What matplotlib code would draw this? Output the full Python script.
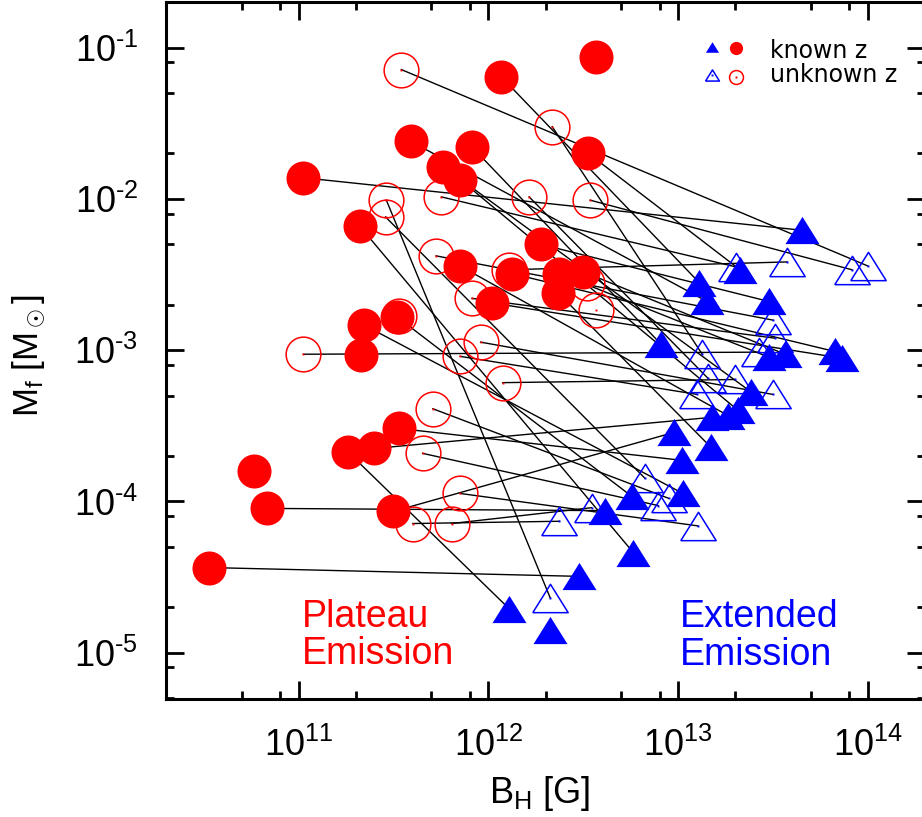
import matplotlib
matplotlib.use('Agg')
import matplotlib.pyplot as plt
from matplotlib.lines import Line2D
from matplotlib.ticker import LogLocator, NullFormatter, FuncFormatter
import numpy as np

# ---------------- data ----------------
# paired known-z bursts: plateau emission (circle) -> extended emission (triangle)
pe_known_B = [1.05e11, 3.36e12, 1.17e12, 3.9e11, 2.1e11, 1.9e12, 8.2e11, 2.37e12, 3.16e12,
              1.34e12, 1.05e12, 5.8e11, 7.1e11, 7.1e11, 2.5e11, 3.16e11, 2.34e12, 3.36e11,
              3.3e11, 2.2e11, 6.8e10, 3.36e10, 1.83e11]
pe_known_M = [1.38e-2, 2.0e-2, 6.4e-2, 2.4e-2, 6.6e-3, 5.0e-3, 2.2e-2, 3.2e-3, 3.3e-3,
              3.2e-3, 2.05e-3, 1.63e-2, 1.34e-2, 3.6e-3, 2.24e-4, 8.6e-5, 2.38e-3, 3.04e-4,
              1.66e-3, 1.47e-3, 9.0e-5, 3.66e-5, 2.11e-4]
ee_known_B = [4.5e13, 2.12e13, 1.29e13, 1.42e13, 5.8e12, 3.0e13, 8.1e12, 3.0e13, 3.66e13,
              6.7e13, 7.3e13, 2.42e13, 2.07e13, 1.83e13, 1.51e13, 9.5e12, 1.49e13, 1.05e13,
              5.7e12, 1.06e13, 4.1e12, 3.0e12, 1.29e12]
ee_known_M = [6.2e-3, 3.4e-3, 2.8e-3, 2.1e-3, 4.6e-5, 2.1e-3, 1.1e-3, 9.0e-4, 9.4e-4,
              9.8e-4, 8.85e-4, 5.3e-4, 4.0e-4, 3.7e-4, 3.6e-4, 2.86e-4, 2.28e-4, 1.87e-4,
              1.08e-4, 1.13e-4, 8.7e-5, 3.2e-5, 1.95e-5]
# unpaired known-z points
pe_known_extra_B = [3.7e12, 2.12e11, 5.8e10]
pe_known_extra_M = [8.6e-2, 9.3e-4, 1.58e-4]
ee_known_extra_B = [2.12e12]
ee_known_extra_M = [1.42e-5]

# paired unknown-z bursts
pe_unknown_B = [3.48e11, 5.66e11, 2.17e12, 1.64e12, 3.44e12, 1.29e12, 5.3e11, 8.2e11, 9.1e11,
                7.1e11, 1.06e11, 1.19e12, 2.87e11, 2.9e11, 5.1e11, 4.5e11, 7.1e11, 4.0e11, 6.4e11]
pe_unknown_M = [7.15e-2, 1.03e-2, 3.0e-2, 1.03e-2, 9.8e-3, 3.4e-3, 4.2e-3, 2.2e-3, 1.13e-3,
                9.1e-4, 9.4e-4, 6.1e-4, 7.6e-3, 9.8e-3, 4.1e-4, 2.08e-4, 1.13e-4, 7.15e-5, 7.15e-5]
ee_unknown_B = [1.0e14, 2.02e13, 1.34e13, 1.44e13, 8.24e13, 3.75e13, 3.16e13, 3.24e13, 3.16e13,
                1.26e13, 2.67e13, 2.0e13, 6.7e12, 2.12e12, 8.9e12, 7.85e12, 1.27e13, 2.37e12, 3.5e12]
ee_unknown_M = [3.6e-3, 3.55e-3, 9.4e-4, 6.5e-4, 3.4e-3, 3.83e-3, 1.58e-3, 1.2e-3, 5.1e-4,
                5.1e-4, 9.7e-4, 6.4e-4, 1.42e-4, 2.3e-5, 1.05e-4, 9.4e-5, 6.9e-5, 7.4e-5, 9.1e-5]
pe_unknown_extra_B = [3.7e12, 3.4e11, 3.3e12]
pe_unknown_extra_M = [1.84e-3, 1.68e-3, 2.8e-3]

xlim = (2.0e10, 2.0e14)
ylim = (4.95e-6, 0.2)

RED = '#ff0000'
BLUE = '#0000ff'

plt.rcParams['mathtext.fontset'] = 'custom'
plt.rcParams['mathtext.rm'] = 'Liberation Sans'
plt.rcParams['mathtext.it'] = 'Liberation Sans'
plt.rcParams['mathtext.bf'] = 'Liberation Sans:bold'
plt.rcParams['mathtext.sf'] = 'Liberation Sans'
plt.rcParams['font.family'] = ['Liberation Sans', 'DejaVu Sans']

W, H = 922, 817
fig = plt.figure(figsize=(W / 100, H / 100), dpi=100)
ax = fig.add_axes([166 / W, 118 / H, 759 / W, 697 / H])
ax.set_xscale('log')
ax.set_yscale('log')
ax.set_xlim(*xlim)
ax.set_ylim(*ylim)

tri = [(-1, -0.8), (1, -0.8), (0, 0.8), (-1, -0.8)]

# connecting lines
for xs, ys, xe, ye in [(pe_known_B, pe_known_M, ee_known_B, ee_known_M),
                       (pe_unknown_B, pe_unknown_M, ee_unknown_B, ee_unknown_M)]:
    for a, b, c, d in zip(xs, ys, xe, ye):
        ax.plot([a, c], [b, d], color='black', lw=1.0, zorder=1)

# unknown-z open markers
ax.plot(pe_unknown_B + pe_unknown_extra_B, pe_unknown_M + pe_unknown_extra_M, 'o', ls='none',
        ms=25, mfc='none', mec=RED, mew=1.1, zorder=2)
ax.plot(pe_unknown_B + pe_unknown_extra_B, pe_unknown_M + pe_unknown_extra_M, 's', ls='none',
        ms=1.4, mfc=RED, mew=0, zorder=2)
ax.plot(ee_unknown_B, ee_unknown_M, marker=tri, ls='none',
        ms=25.5, mfc='none', mec=BLUE, mew=1.1, zorder=2)
ax.plot(ee_unknown_B, ee_unknown_M, 's', ls='none', ms=1.4, mfc=BLUE, mew=0, zorder=2)

# known-z filled markers
ax.plot(pe_known_B + pe_known_extra_B, pe_known_M + pe_known_extra_M, 'o', ls='none',
        ms=24.5, mfc=RED, mec=RED, mew=0, zorder=3)
ax.plot(ee_known_B + ee_known_extra_B, ee_known_M + ee_known_extra_M, marker=tri, ls='none',
        ms=24.5, mfc=BLUE, mec=BLUE, mew=0, zorder=3)

# axes styling
for s in ax.spines.values():
    s.set_linewidth(2.2)
for axis in (ax.xaxis, ax.yaxis):
    axis.set_major_locator(LogLocator(base=10, numticks=20))
    axis.set_minor_locator(LogLocator(base=10, subs=(2.0, 5.0, 8.0), numticks=20))
    axis.set_minor_formatter(NullFormatter())


def fmt(v, pos):
    e = int(round(np.log10(v)))
    if e < 0:
        return r'$10^{\text{-}%d}$' % (-e)
    return r'$10^{%d}$' % e


ax.xaxis.set_major_formatter(FuncFormatter(fmt))
ax.yaxis.set_major_formatter(FuncFormatter(fmt))
ax.tick_params(which='major', direction='in', length=13, width=2, top=True, right=True,
               labelsize=26)
ax.tick_params(which='minor', direction='in', length=6, width=2, top=True, right=True)
ax.tick_params(axis='x', which='major', pad=21)
ax.tick_params(axis='y', which='major', pad=20)

# axis labels
fig.text(540 / W, 1 - 803 / H, r'B$_\mathrm{H}$ [G]', fontsize=26, ha='center', va='baseline')
fig.text(29 / W, 1 - 356 / H, r'M$_\mathrm{f}$ [M$_\odot$]', fontsize=25, rotation=90,
         ha='center', va='center')

# annotations
fig.text(302 / W, 1 - 627 / H, 'Plateau', color=RED, fontsize=27, va='baseline')
fig.text(302 / W, 1 - 664 / H, 'Emission', color=RED, fontsize=27, va='baseline')
fig.text(680 / W, 1 - 627 / H, 'Extended', color=BLUE, fontsize=27, va='baseline')
fig.text(680 / W, 1 - 665 / H, 'Emission', color=BLUE, fontsize=27, va='baseline')

# legend (hand drawn)
def fx(p):
    return p / W


def fy(p):
    return 1 - p / H


fig.add_artist(Line2D([fx(712)], [fy(47)], marker=tri, ms=9.5, mfc=BLUE, mec=BLUE, mew=0, ls='none'))
fig.add_artist(Line2D([fx(736)], [fy(48)], marker='o', ms=9.5, mfc=RED, mec=RED, mew=0, ls='none'))
fig.add_artist(Line2D([fx(712)], [fy(75)], marker=tri, ms=10, mfc='none', mec=BLUE, mew=1.1, ls='none'))
fig.add_artist(Line2D([fx(712)], [fy(75)], marker='s', ms=1.4, mfc=BLUE, mew=0, ls='none'))
fig.add_artist(Line2D([fx(736)], [fy(77)], marker='o', ms=10, mfc='none', mec=RED, mew=1.1, ls='none'))
fig.add_artist(Line2D([fx(736)], [fy(77)], marker='s', ms=1.4, mfc=RED, mew=0, ls='none'))
fig.text(fx(770), fy(58), 'known z', fontsize=17, family='DejaVu Sans', va='baseline')
fig.text(fx(770), fy(82), 'unknown z', fontsize=17, family='DejaVu Sans', va='baseline')

fig.savefig('out.png', dpi=100)
